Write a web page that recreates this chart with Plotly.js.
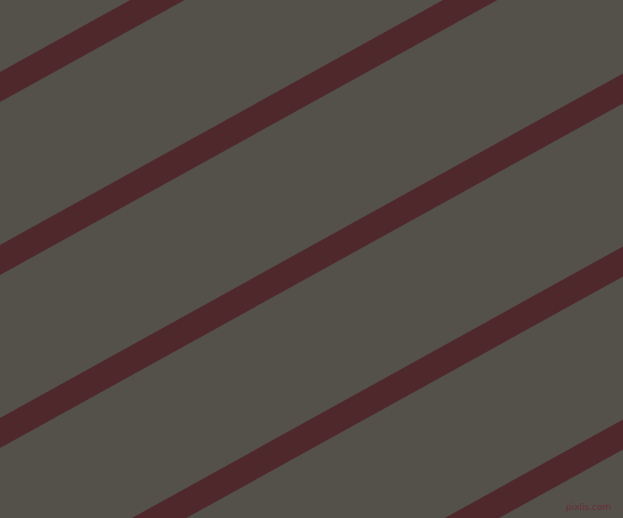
<!DOCTYPE html>
<html>
<head>
<meta charset="utf-8">
<script src="https://cdn.plot.ly/plotly-3.0.1.min.js"></script>
<style>
html,body{margin:0;padding:0;background:#54504a;overflow:hidden;}
#chart{width:623px;height:518px;}
</style>
</head>
<body>
<div id="chart"></div>
<script>
// Upper edge of each stripe, read at the left (x=0) and right (x=623) borders
var stripeLeftY  = [72, 245, 418, 591, 764];
var stripeRightY = [-272.5, -99.5, 73.5, 246.5, 419.5];
var stripeThickness = [30, 30, 30, 30, 30];
var edgeX = [0, 623];

var bgColor = '#54504a';
var stripeColor = '#4f282c';

var traces = [];
for (var i = 0; i < stripeLeftY.length; i++) {
  var t = stripeThickness[i];
  traces.push({
    type: 'scatter',
    mode: 'lines',
    x: [edgeX[0], edgeX[1], edgeX[1], edgeX[0], edgeX[0]],
    y: [stripeLeftY[i], stripeRightY[i], stripeRightY[i] + t, stripeLeftY[i] + t, stripeLeftY[i]],
    fill: 'toself',
    fillcolor: stripeColor,
    line: {width: 0, color: stripeColor},
    hoverinfo: 'skip',
    showlegend: false
  });
}

var layout = {
  width: 623,
  height: 518,
  margin: {l: 0, r: 0, t: 0, b: 0, pad: 0},
  paper_bgcolor: bgColor,
  plot_bgcolor: bgColor,
  showlegend: false,
  xaxis: {range: [0, 623], visible: false, fixedrange: true},
  yaxis: {range: [518, 0], visible: false, fixedrange: true},
  annotations: [{
    text: 'pixlis.com',
    x: 613, y: 507,
    xref: 'x', yref: 'y',
    xanchor: 'right', yanchor: 'middle',
    showarrow: false,
    font: {family: 'DejaVu Sans', size: 9, color: '#6a2e36'}
  }]
};

Plotly.newPlot('chart', traces, layout, {staticPlot: true, displayModeBar: false});
</script>
</body>
</html>
